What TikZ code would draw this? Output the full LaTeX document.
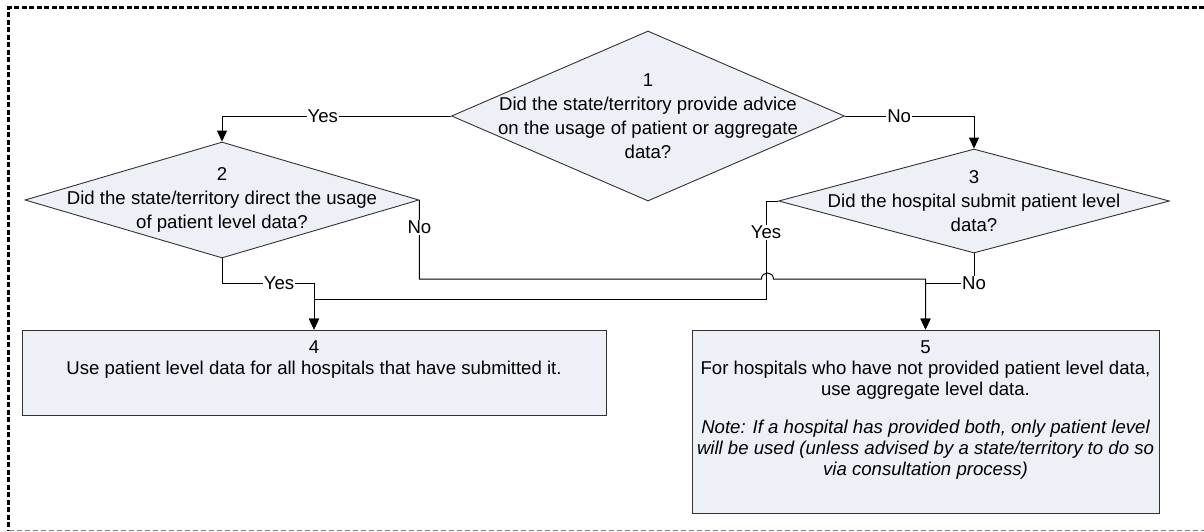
\documentclass[tikz,border=0pt]{standalone}
\usepackage{fontspec}
\setmainfont{Liberation Sans}
\usetikzlibrary{shapes.geometric,arrows.meta}
\definecolor{boxfill}{RGB}{237,240,246}
\definecolor{edgegray}{RGB}{50,50,50}
\begin{document}
\begin{tikzpicture}[x=1pt,y=-1pt,
  font=\fontsize{18.6}{24}\selectfont,
  decision/.style={diamond,draw=edgegray,line width=0.9pt,fill=boxfill,inner sep=0pt},
  outcome/.style={rectangle,draw=edgegray,line width=0.9pt,fill=boxfill,inner sep=0pt},
  qtext/.style={align=center,inner sep=0pt},
  btext/.style={align=center,inner sep=0pt,anchor=north,yshift=-11pt,font=\fontsize{18.6}{21}\selectfont},
  flow/.style={line width=1pt,-{Triangle[length=11pt,width=10pt]}},
  lbl/.style={fill=white,inner sep=1pt}]
\useasboundingbox (0,0) rectangle (1204,531);
\draw[line width=2.2pt,dash pattern=on 5pt off 2.5pt] (1204,7.5) -- (8.5,7.5) -- (8.5,531);
\draw[gray,line width=1pt,dash pattern=on 5pt off 3pt] (8.5,530) -- (1204,530);

\node[decision,minimum width=393pt,minimum height=170pt,
  label={[qtext]center:{1\\Did the state/territory provide advice\\on the usage of patient or aggregate\\data?}}] (q1) at (648,116) {};
\node[decision,minimum width=394pt,minimum height=116pt,
  label={[qtext]center:{2\\Did the state/territory direct the usage\\of patient level data?}}] (q2) at (222,200) {};
\node[decision,minimum width=391pt,minimum height=104pt,
  label={[qtext]center:{3\\Did the hospital submit patient level\\data?}}] (q3) at (974,201) {};

\node[outcome,minimum width=584pt,minimum height=85pt,
  label={[btext]north:{4\\Use patient level data for all hospitals that have submitted it.}}] (r4) at (314,372.5) {};
\node[outcome,minimum width=467pt,minimum height=183pt,
  label={[btext]north:{5\\For hospitals who have not provided patient level data,\\use aggregate level data.\\[17pt]
  \itshape Note: If a hospital has provided both, only patient level\\\itshape will be used (unless advised by a state/territory to do so\\\itshape via consultation process)}}] (r5) at (925.5,421.5) {};

\draw[flow] (q1.west) -| node[lbl,pos=0.28] {Yes} (q2.north);
\draw[flow] (q1.east) -| node[lbl,pos=0.21] {No} (q3.north);
\draw[flow] (q2.south) -- ++(0,25) -| node[lbl,pos=0.31] {Yes} (r4.north);
\draw[flow] (q3.west) -- ++(-12,0) -- node[lbl,pos=0.32] {Yes} ++(0,98) -| (r4.north);
\draw[flow] (q2.east) -- node[lbl,pos=0.35] {No} ++(0,79) -- ++(342,0) .. controls +(0,-8) and +(0,-8) .. ++(12,0) -| (r5.north);
\draw[flow] (q3.south) -- ++(0,30) node[lbl] {No} -| (r5.north);
\end{tikzpicture}
\end{document}
